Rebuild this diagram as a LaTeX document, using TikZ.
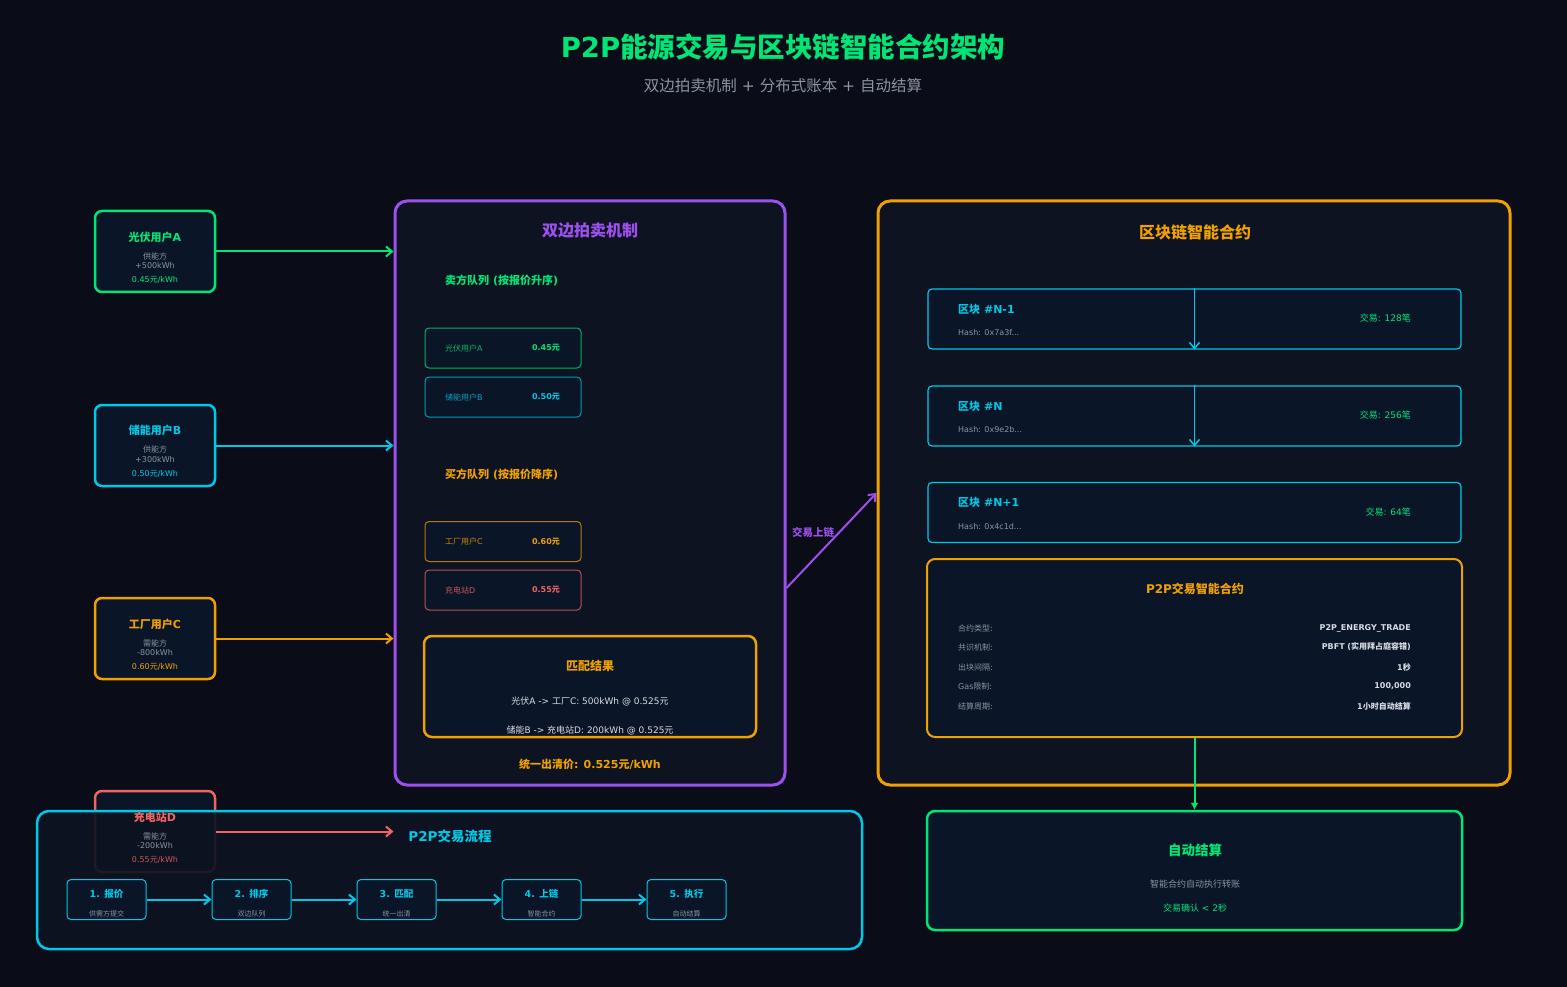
\documentclass[tikz,border=0pt]{standalone}
\usepackage{fontspec}
\setmainfont{DejaVu Sans}
\newfontfamily\cjkfont[NFSSFamily=cjkf]{Noto Sans CJK SC}
\XeTeXinterchartokenstate=1
\newXeTeXintercharclass\cjkcls
\newcount\cjkcc
\cjkcc="4E00
\loop \XeTeXcharclass\cjkcc=\cjkcls \advance\cjkcc by 1 \ifnum\cjkcc<"A000 \repeat
\XeTeXinterchartoks 0 \cjkcls={\fontfamily{cjkf}\selectfont}
\XeTeXinterchartoks 4095 \cjkcls={\fontfamily{cjkf}\selectfont}
\XeTeXinterchartoks \cjkcls 0={\rmfamily}
\XeTeXinterchartoks \cjkcls 4095={\rmfamily}
\usepackage{tikz}
\usetikzlibrary{arrows.meta}
\definecolor{bg}{HTML}{0A0D18}
\definecolor{panelfill}{HTML}{0D1320}
\definecolor{boxfill}{HTML}{0A1628}
\definecolor{green}{HTML}{00E676}
\definecolor{cyan}{HTML}{00C8E8}
\definecolor{orange}{HTML}{F0A000}
\definecolor{purple}{HTML}{9D50EE}
\definecolor{red}{HTML}{F06464}
\definecolor{muted}{HTML}{8A93A0}
\definecolor{light}{HTML}{D8DCE4}
\newcommand{\fsz}[1]{\fontsize{#1}{#1}\selectfont}
\tikzset{lab/.style={font=\fsz{#1},inner sep=0pt},
blab/.style={font=\bfseries\fsz{#1},inner sep=0pt},
panel/.style={draw=#1,fill=panelfill,line width=3pt,rounded corners=12pt},
userbox/.style={draw=#1,fill=boxfill,line width=2.5pt,rounded corners=7pt,minimum width=120,minimum height=81},
item/.style={draw=#1,draw opacity=.75,fill=boxfill,line width=1pt,rounded corners=4pt,minimum width=156,minimum height=40},
block/.style={draw=cyan,fill=boxfill,line width=1.2pt,rounded corners=4pt,minimum width=533,minimum height=60},
stepbox/.style={draw=cyan,fill=boxfill,line width=1pt,rounded corners=4pt,minimum width=79,minimum height=40},
feed/.style={-{Straight Barb[length=6pt,width=10pt]},line width=2pt,#1}}

\begin{document}
\begin{tikzpicture}[x=1pt,y=-1pt]
\fill[bg] (0,0) rectangle (1567,987);
\useasboundingbox (0,0) rectangle (1567,987);
\node[blab=27.5,text=green] (title) at (783,47) {P2P能源交易与区块链智能合约架构};
\node[lab=15.5,text=muted] (sub) at (783,86) {双边拍卖机制 + 分布式账本 + 自动结算};
\node[panel=purple,minimum width=390,minimum height=584] (auct) at (590,493) {};
\node[panel=orange,minimum width=632,minimum height=584] (chain) at (1194,493) {};
\node[userbox=green] (ua) at (155,251.5) {};
\node[blab=11,text=green] at (155,237) {光伏用户A};
\node[lab=8,text=muted] at (155,256) {供能方};
\node[lab=8,text=muted] at (155,266) {+500kWh};
\node[lab=8,text=green] at (155,280) {0.45元/kWh};
\node[userbox=cyan] (ub) at (155,445.5) {};
\node[blab=11,text=cyan] at (155,430) {储能用户B};
\node[lab=8,text=muted] at (155,449) {供能方};
\node[lab=8,text=muted] at (155,460) {+300kWh};
\node[lab=8,text=cyan] at (155,474) {0.50元/kWh};
\node[userbox=orange] (uc) at (155,638.5) {};
\node[blab=11,text=orange] at (155,624) {工厂用户C};
\node[lab=8,text=muted] at (155,643) {需能方};
\node[lab=8,text=muted] at (155,653) {-800kWh};
\node[lab=8,text=orange] at (155,667) {0.60元/kWh};
\node[userbox=red] (ud) at (155,831.5) {};
\node[panel=cyan,line width=2.5pt,fill opacity=.92,minimum width=825,minimum height=138] (flow) at (449.5,880) {};
\node[blab=11,text=red] at (155,817) {充电站D};
\node[lab=8,text=muted] at (155,836) {需能方};
\node[lab=8,text=muted] at (155,846) {-200kWh};
\node[lab=8,text=red!85!black] at (155,860) {0.55元/kWh};
\draw[feed=green] (ua.east) -- (ua.east -| auct.west);
\draw[feed=cyan] (ub.east) -- (ub.east -| auct.west);
\draw[feed=orange] (uc.east) -- (uc.east -| auct.west);
\draw[feed=red] (ud.east) -- (ud.east -| auct.west);
\node[blab=16,text=purple] at (590,231) {双边拍卖机制};
\node[blab=11,text=green,anchor=west] at (445,280) {卖方队列 (按报价升序)};
\node[item=green] (sa) at (503,348) {};
\node[lab=8,text=green!80!black,anchor=west] at (445,348) {光伏用户A};
\node[blab=8,text=green] at (546,348) {0.45元};
\node[item=cyan] (sb) at (503,397) {};
\node[lab=8,text=cyan!80!black,anchor=west] at (445,397) {储能用户B};
\node[blab=8,text=cyan] at (546,397) {0.50元};
\node[blab=11,text=orange,anchor=west] at (445,474) {买方队列 (按报价降序)};
\node[item=orange] (bc) at (503,541.5) {};
\node[lab=8,text=orange!85!black,anchor=west] at (445,541.5) {工厂用户C};
\node[blab=8,text=orange] at (546,541.5) {0.60元};
\node[item=red] (bd) at (503,590) {};
\node[lab=8,text=red!85!black,anchor=west] at (445,590) {充电站D};
\node[blab=8,text=red] at (546,590) {0.55元};
\node[draw=orange,fill=boxfill,line width=2.5pt,rounded corners=8pt,minimum width=332,minimum height=101] (match) at (590,686.5) {};
\node[blab=12,text=orange] at (590,666) {匹配结果};
\node[lab=9,text=light] at (590,701) {光伏A -> 工厂C: 500kWh @ 0.525元};
\node[lab=9,text=light] at (590,730) {储能B -> 充电站D: 200kWh @ 0.525元};
\node[blab=11,text=orange] at (590,764) {统一出清价: 0.525元/kWh};
\draw[feed=purple] ([yshift=-95pt]auct.east) -- (chain.west);
\node[blab=10.5,text=purple] (lk) at (813,532) {交易上链};
\node[blab=16,text=orange] at (1195,232) {区块链智能合约};
\node[block] (b1) at (1194.5,319) {};
\node[blab=11,text=cyan,anchor=west] at (958,309) {区块 \#N-1};
\node[lab=8,text=muted,anchor=west] at (958,333) {Hash: 0x7a3f...};
\node[lab=9,text=green,anchor=east] at (1411,318) {交易: 128笔};
\node[block] (b2) at (1194.5,416) {};
\node[blab=11,text=cyan,anchor=west] at (958,406) {区块 \#N};
\node[lab=8,text=muted,anchor=west] at (958,430) {Hash: 0x9e2b...};
\node[lab=9,text=green,anchor=east] at (1411,415) {交易: 256笔};
\node[block] (b3) at (1194.5,512.5) {};
\node[blab=11,text=cyan,anchor=west] at (958,502) {区块 \#N+1};
\node[lab=8,text=muted,anchor=west] at (958,527) {Hash: 0x4c1d...};
\node[lab=9,text=green,anchor=east] at (1411,512) {交易: 64笔};
\draw[feed=cyan,line width=1.5pt] (b1.north) -- (b1.south);
\draw[feed=cyan,line width=1.5pt] (b2.north) -- (b2.south);
\node[draw=orange,fill=boxfill,line width=2pt,rounded corners=8pt,minimum width=535,minimum height=178] (ct) at (1194.5,648) {};
\node[blab=12,text=orange] at (1195,589) {P2P交易智能合约};
\node[lab=8,text=muted,anchor=west] at (958,628) {合约类型:};
\node[blab=8,text=light,anchor=east] at (1411,628) {P2P\_ENERGY\_TRADE};
\node[lab=8,text=muted,anchor=west] at (958,647) {共识机制:};
\node[blab=8,text=light,anchor=east] at (1411,647) {PBFT (实用拜占庭容错)};
\node[lab=8,text=muted,anchor=west] at (958,667) {出块间隔:};
\node[blab=8,text=light,anchor=east] at (1411,667) {1秒};
\node[lab=8,text=muted,anchor=west] at (958,686) {Gas限制:};
\node[blab=8,text=light,anchor=east] at (1411,686) {100,000};
\node[lab=8,text=muted,anchor=west] at (958,706) {结算周期:};
\node[blab=8,text=light,anchor=east] at (1411,706) {1小时自动结算};
\node[draw=green,fill=boxfill,line width=2.5pt,rounded corners=8pt,minimum width=535,minimum height=119] (st) at (1194.5,870.5) {};
\draw[-{Latex[length=7pt,width=8pt]},line width=2pt,green] (ct.south) -- (st.north);
\node[blab=13.5,text=green] at (1195,850) {自动结算};
\node[lab=9,text=muted] at (1195,884) {智能合约自动执行转账};
\node[lab=9,text=green] at (1195,908) {交易确认 < 2秒};
\node[blab=13.5,text=cyan] at (450,836) {P2P交易流程};
\node[stepbox] (s1) at (106.5,899.5) {};
\node[blab=9.5,text=cyan] at (106.5,894) {1. 报价};
\node[lab=7,text=muted] at (106.5,914) {供需方提交};
\node[stepbox] (s2) at (251.5,899.5) {};
\node[blab=9.5,text=cyan] at (251.5,894) {2. 排序};
\node[lab=7,text=muted] at (251.5,914) {双边队列};
\node[stepbox] (s3) at (396.5,899.5) {};
\node[blab=9.5,text=cyan] at (396.5,894) {3. 匹配};
\node[lab=7,text=muted] at (396.5,914) {统一出清};
\node[stepbox] (s4) at (541.5,899.5) {};
\node[blab=9.5,text=cyan] at (541.5,894) {4. 上链};
\node[lab=7,text=muted] at (541.5,914) {智能合约};
\node[stepbox] (s5) at (686.5,899.5) {};
\node[blab=9.5,text=cyan] at (686.5,894) {5. 执行};
\node[lab=7,text=muted] at (686.5,914) {自动结算};
\draw[feed=cyan] (s1) -- (s2);
\draw[feed=cyan] (s2) -- (s3);
\draw[feed=cyan] (s3) -- (s4);
\draw[feed=cyan] (s4) -- (s5);
\end{tikzpicture}
\end{document}
